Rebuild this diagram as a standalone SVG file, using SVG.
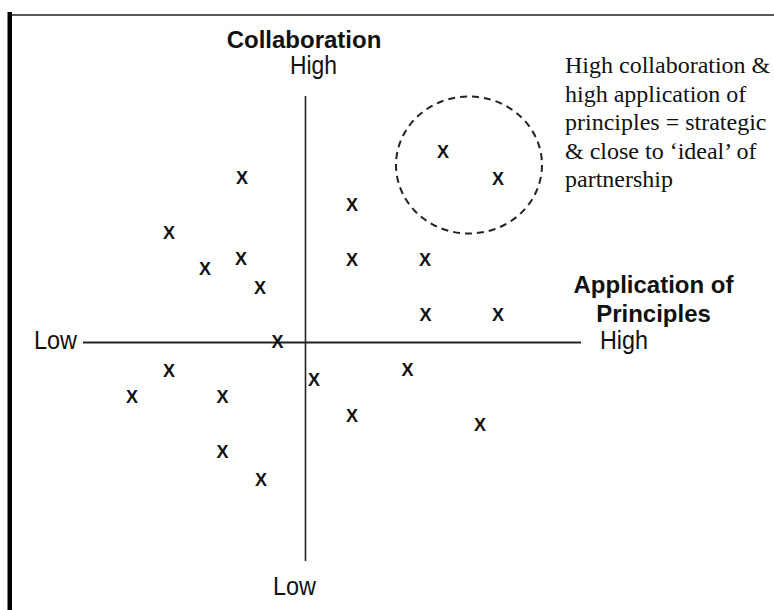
<svg xmlns="http://www.w3.org/2000/svg" width="774" height="610" viewBox="0 0 774 610">
<style>
.bold{font-family:"Liberation Sans",Arial,sans-serif;font-weight:bold;font-size:24px;fill:#111}
.reg{font-family:"Liberation Sans",Arial,sans-serif;font-size:25px;fill:#111}
.note{font-family:"Liberation Serif","Times New Roman",serif;font-size:24px;fill:#111}
.x{font-family:"Liberation Sans",Arial,sans-serif;font-weight:bold;font-size:18px;fill:#111;text-anchor:middle}
.axis{stroke:#222;fill:none}
</style>
<rect width="774" height="610" fill="#fff"/>
<g id="frame">
<line x1="8" y1="15" x2="774" y2="15" stroke="#222" stroke-width="1.6"/>
<rect x="7.5" y="12" width="4.5" height="598" fill="#000"/>
</g>
<g id="connectors">
<line class="axis" x1="305.5" y1="96" x2="305.5" y2="561" stroke-width="1.6"/>
<line class="axis" x1="83" y1="342.5" x2="581" y2="342.5" stroke-width="2"/>
</g>
<g id="collab-label">
<text class="bold" x="304" y="48" text-anchor="middle">Collaboration</text>
<text class="reg" x="290" y="74" textLength="47" lengthAdjust="spacingAndGlyphs">High</text>
</g>
<g id="collab-low">
<text class="reg" x="273" y="595" textLength="43" lengthAdjust="spacingAndGlyphs">Low</text>
</g>
<g id="app-low">
<text class="reg" x="34" y="349" textLength="43" lengthAdjust="spacingAndGlyphs">Low</text>
</g>
<g id="app-label">
<text class="bold" x="653.5" y="293" text-anchor="middle">Application of</text>
<text class="bold" x="653.5" y="322" text-anchor="middle">Principles</text>
<text class="reg" x="600" y="349" font-size="24" textLength="48" lengthAdjust="spacingAndGlyphs">High</text>
</g>
<g id="ideal-zone">
<ellipse cx="469" cy="165" rx="73" ry="68.5" fill="none" stroke="#222" stroke-width="2" stroke-dasharray="7 5"/>
</g>
<g id="note">
<text class="note" x="565" y="73">High collaboration &amp;</text>
<text class="note" x="565" y="101.5">high application of</text>
<text class="note" x="565" y="130">principles = strategic</text>
<text class="note" x="565" y="158.5">&amp; close to ‘ideal’ of</text>
<text class="note" x="565" y="187">partnership</text>
</g>
<g id="points">
<text class="x" x="242" y="183.5">X</text>
<text class="x" x="169" y="238.5">X</text>
<text class="x" x="205" y="274.5">X</text>
<text class="x" x="241" y="264.5">X</text>
<text class="x" x="260" y="293.5">X</text>
<text class="x" x="352" y="210.5">X</text>
<text class="x" x="352" y="265.5">X</text>
<text class="x" x="425" y="265.5">X</text>
<text class="x" x="425.5" y="320.5">X</text>
<text class="x" x="498" y="320.5">X</text>
<text class="x" x="443" y="157.5">X</text>
<text class="x" x="498" y="184.5">X</text>
<text class="x" x="277.5" y="347.5">X</text>
<text class="x" x="169" y="376.5">X</text>
<text class="x" x="132" y="402.5">X</text>
<text class="x" x="222.5" y="402.5">X</text>
<text class="x" x="314" y="385.5">X</text>
<text class="x" x="407.5" y="375.5">X</text>
<text class="x" x="352" y="422">X</text>
<text class="x" x="480" y="430.5">X</text>
<text class="x" x="222.5" y="457.5">X</text>
<text class="x" x="261" y="485.5">X</text>
</g>
</svg>
